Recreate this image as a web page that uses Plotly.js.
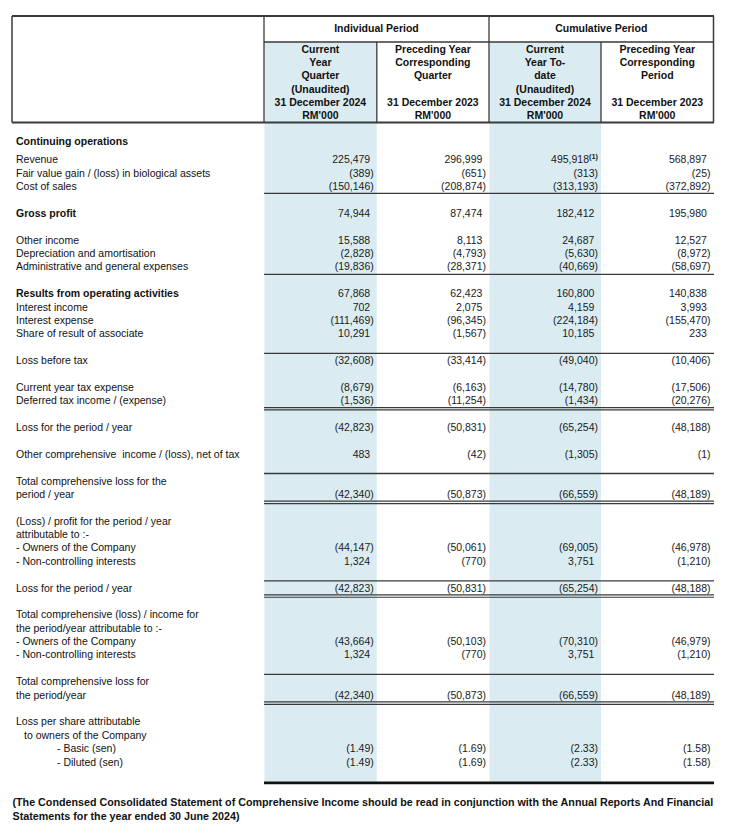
<!DOCTYPE html>
<html><head><meta charset="utf-8">
<script src="https://cdn.plot.ly/plotly-3.0.1.min.js"></script>
<style>html,body{margin:0;padding:0;background:#fff}</style>
</head><body><div id="chart" style="width:730px;height:838px"></div>
<script>
// ---------------- DATA ----------------
const periodGroups = ["Individual Period", "Cumulative Period"];
const columnHeaders = [
  ["Current", "Year", "Quarter", "(Unaudited)", "31 December 2024", "RM'000"],
  ["Preceding Year", "Corresponding", "Quarter", "", "31 December 2023", "RM'000"],
  ["Current", "Year To-", "date", "(Unaudited)", "31 December 2024", "RM'000"],
  ["Preceding Year", "Corresponding", "Period", "", "31 December 2023", "RM'000"]
];
const labelLines = [
  "Continuing operations", "Revenue", "Fair value gain / (loss) in biological assets", "Cost of sales",
  "Gross profit", "Other income", "Depreciation and amortisation", "Administrative and general expenses",
  "Results from operating activities", "Interest income", "Interest expense", "Share of result of associate",
  "Loss before tax", "Current year tax expense", "Deferred tax income / (expense)", "Loss for the period / year",
  "Other comprehensive\u00a0 income / (loss), net of tax", "Total comprehensive loss for the", "period / year",
  "(Loss) / profit for the period / year", "attributable to :-", "- Owners of the Company", "- Non-controlling interests",
  "Loss for the period / year", "Total comprehensive (loss) / income for", "the period/year attributable to :-",
  "- Owners of the Company", "- Non-controlling interests", "Total comprehensive loss for", "the period/year",
  "Loss per share attributable", "to owners of the Company", "- Basic (sen)", "- Diluted (sen)"
];
const boldLabels = ["Continuing operations", "Gross profit", "Results from operating activities"];
const currentQuarter2024 = [225479, -389, -150146, 74944, 15588, -2828, -19836, 67868, 702, -111469, 10291, -32608, -8679, -1536, -42823, 483, -42340, -44147, 1324, -42823, -43664, 1324, -42340, -1.49, -1.49];
const precedingQuarter2023 = [296999, -651, -208874, 87474, 8113, -4793, -28371, 62423, 2075, -96345, -1567, -33414, -6163, -11254, -50831, -42, -50873, -50061, -770, -50831, -50103, -770, -50873, -1.69, -1.69];
const currentYearToDate2024 = [495918, -313, -313193, 182412, 24687, -5630, -40669, 160800, 4159, -224184, 10185, -49040, -14780, -1434, -65254, -1305, -66559, -69005, 3751, -65254, -70310, 3751, -66559, -2.33, -2.33];
const precedingPeriod2023 = [568897, -25, -372892, 195980, 12527, -8972, -58697, 140838, 3993, -155470, 233, -10406, -17506, -20276, -48188, -1, -48189, -46978, -1210, -48188, -46979, -1210, -48189, -1.58, -1.58];
const valueNotes = {"2,0": "(1)"}; // column 2, row 0 -> superscript note
const footnoteLines = [
  "(The Condensed Consolidated Statement of Comprehensive Income should be read in conjunction with the Annual Reports And Financial",
  "Statements for the year ended 30 June 2024)"
];

// ---------------- LAYOUT (positions) ----------------
const ROW0 = 160.8, PITCH = 13.38;           // y of first value row, line pitch
const yOf = L => ROW0 + L * PITCH;
const labelLineIdx = [-1.35, 0, 1, 2, 4, 6, 7, 8, 10, 11, 12, 13, 15, 17, 18, 20, 22, 24, 25, 27, 28, 29, 30, 32, 34, 35, 36, 37, 39, 40, 42, 43, 44, 45];
const labelIndent = {31: 24, 32: 57, 33: 57};
const valueLineIdx = [0, 1, 2, 4, 6, 7, 8, 10, 11, 12, 13, 15, 17, 18, 20, 22, 25, 29, 30, 32, 36, 37, 40, 44, 45];
const colEdges = [264, 376.8, 489, 601, 713.5];
const ruleBase = 160;
const ruleY = L => ruleBase + L * PITCH;
const singleRules = [2.5, 8.55, 14.45, 23.43, 31.45, 38.45];
const doubleRules = [18.5, 25.5, 32.5, 40.5];
const thickRule = 46.55;
const headerLineY = [50, 63.3, 76.6, 90, 103.5, 116.8];

const FONT = "'Liberation Sans', Arial, Helvetica, sans-serif";
const FS = 10.5;

function fmt(v) {
  const dec = Number.isInteger(v) ? 0 : 2;
  const s = Math.abs(v).toLocaleString('en-US', {minimumFractionDigits: dec, maximumFractionDigits: dec});
  return v < 0 ? '(' + s + ')' : s;
}

const traces = [];
function textTrace(x, y, text, pos, bold, color, size) {
  traces.push({
    type: 'scatter', mode: 'text', x: x, y: y, text: text, textposition: pos,
    textfont: {family: FONT, size: size || FS, color: color || '#111', weight: bold ? 700 : 400},
    hoverinfo: 'skip', showlegend: false, cliponaxis: false
  });
}

// labels
const lx = [], ly = [], lt = [], bx = [], by = [], bt = [];
labelLines.forEach((t, i) => {
  const x = labelIndent[i] !== undefined ? labelIndent[i] : 16;
  if (boldLabels.includes(t)) { bx.push(x); by.push(yOf(labelLineIdx[i])); bt.push(t); }
  else { lx.push(x); ly.push(yOf(labelLineIdx[i])); lt.push(t); }
});
textTrace(lx, ly, lt, 'middle right', false);
textTrace(bx, by, bt, 'middle right', true);

// values
const series = [currentQuarter2024, precedingQuarter2023, currentYearToDate2024, precedingPeriod2023];
series.forEach((vals, c) => {
  const right = colEdges[c + 1] - 3;
  const x = [], y = [], t = [];
  vals.forEach((v, r) => {
    const note = valueNotes[c + ',' + r];
    let s = fmt(v);
    let xr = v < 0 ? right : right - 3.6;
    if (note) { s = s + '<sup><b>' + note + '</b></sup>'; xr = right; }
    x.push(xr); y.push(yOf(valueLineIdx[r])); t.push(s);
  });
  textTrace(x, y, t, 'middle left', false, '#1a1a1a');
});

// header
const gx = [(colEdges[0] + colEdges[2]) / 2, (colEdges[2] + colEdges[4]) / 2];
textTrace(gx, [29.5, 29.5], periodGroups, 'middle center', true);
columnHeaders.forEach((lines, c) => {
  const cx = (colEdges[c] + colEdges[c + 1]) / 2;
  const xs = [], ys = [], ts = [];
  lines.forEach((t, i) => { if (t) { xs.push(cx); ys.push(headerLineY[i]); ts.push(t); } });
  textTrace(xs, ys, ts, 'middle center', true);
});

// footnote
textTrace([12.5, 12.5], [803.5, 817], footnoteLines, 'middle right', true, '#111', 10.72);

// shapes
const shapes = [];
const line = (x0, y0, x1, y1, w, col) => shapes.push({type: 'line', xref: 'x', yref: 'y', x0, y0, x1, y1, line: {color: col || '#3a3a3a', width: w}, layer: 'above'});
[0, 2].forEach(c => shapes.push({type: 'rect', xref: 'x', yref: 'y', x0: colEdges[c] + 0.5, x1: colEdges[c + 1], y0: 42, y1: 783, fillcolor: '#daecf2', line: {width: 0}, layer: 'below'}));
// header frame
line(12, 16, 714, 16, 2);
line(12, 122.5, 714, 122.5, 2);
line(12, 16, 12, 122.5, 1.5);
line(713.5, 16, 713.5, 122.5, 1.5);
line(264, 16, 264, 122.5, 1.3);
line(489, 16, 489, 122.5, 1.3);
line(376.8, 42, 376.8, 122.5, 1.3);
line(601, 42, 601, 122.5, 1.3);
line(264, 42, 714, 42, 1.3);
singleRules.forEach(L => line(264, ruleY(L), 714, ruleY(L), 1.3));
doubleRules.forEach(L => { line(264, ruleY(L), 714, ruleY(L), 1.2); line(264, ruleY(L) + 2.4, 714, ruleY(L) + 2.4, 1.2); });
line(264, ruleY(thickRule), 714, ruleY(thickRule), 2.6, '#111');

Plotly.newPlot('chart', traces, {
  width: 730, height: 838, margin: {l: 0, r: 0, t: 0, b: 0},
  paper_bgcolor: '#fff', plot_bgcolor: '#fff', showlegend: false,
  xaxis: {range: [0, 730], visible: false, fixedrange: true},
  yaxis: {range: [838, 0], visible: false, fixedrange: true},
  shapes: shapes
}, {staticPlot: true});
</script></body></html>
